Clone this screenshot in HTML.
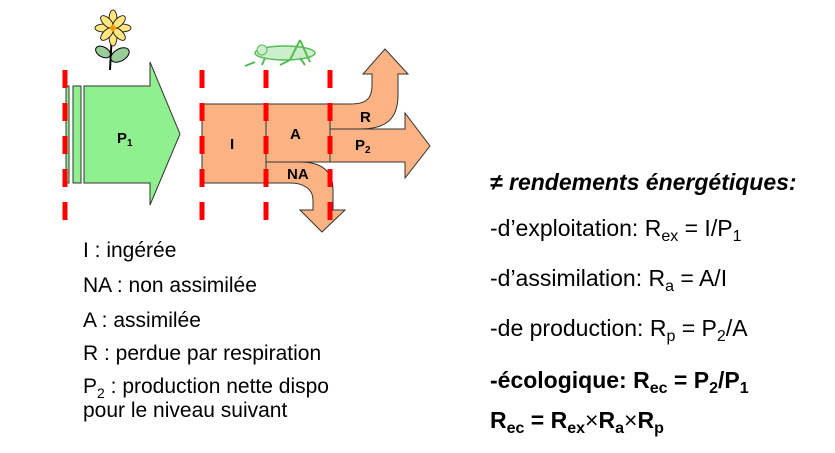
<!DOCTYPE html>
<html><head><meta charset="utf-8"><style>
body{margin:0;width:835px;height:453px;background:#fff;overflow:hidden;font-family:"Liberation Sans",Arial,sans-serif;}
svg{position:absolute;left:0;top:0}
</style></head><body>
<svg width="835" height="453">
<g>
<line x1="112" y1="32" x2="110" y2="70" stroke="#000" stroke-width="2"/>
<ellipse cx="103" cy="52" rx="8" ry="5" fill="#9c9" stroke="#000" transform="rotate(30 103 52)"/>
<ellipse cx="120" cy="55" rx="10" ry="6" fill="#9c9" stroke="#000" transform="rotate(-30 120 55)"/>
<g fill="#ffe680" stroke="#000" stroke-width="0.8">
<ellipse cx="113" cy="19" rx="4" ry="9"/><ellipse cx="113" cy="37" rx="4" ry="9"/>
<ellipse cx="104" cy="28" rx="9" ry="4"/><ellipse cx="122" cy="28" rx="9" ry="4"/>
<ellipse cx="107" cy="22" rx="4" ry="8" transform="rotate(-45 107 22)"/><ellipse cx="119" cy="34" rx="4" ry="8" transform="rotate(-45 119 34)"/>
<ellipse cx="119" cy="22" rx="4" ry="8" transform="rotate(45 119 22)"/><ellipse cx="107" cy="34" rx="4" ry="8" transform="rotate(45 107 34)"/>
</g><circle cx="113" cy="28" r="3" fill="#f90"/>
</g>
<g stroke="#5b5" fill="#cec">
<ellipse cx="285" cy="53" rx="30" ry="7" stroke-width="1.5"/>
<path d="M255 62 L245 66 M265 58 L262 65 M300 58 L305 65 M290 60 L280 65 M300 40 L310 62 M300 40 L290 60" stroke-width="2" fill="none"/>
<circle cx="262" cy="50" r="5"/>
</g>
<g stroke="#333" stroke-width="1">
<rect x="66" y="86" width="3" height="97" fill="#90f090"/>
<rect x="73" y="86" width="8" height="97" fill="#90f090"/>
<path d="M84 86 H150 V62 L180 134 L150 205 V183 H84 Z" fill="#90f090"/>
</g>
<text x="117" y="143" font-size="15" font-weight="bold">P<tspan font-size="10" dy="3">1</tspan></text>
<g stroke="#333" stroke-width="1" fill="#fbb384">
<path d="M330 104 H350 C365 104 372 100 372 85 V74 H363 L385 49 L408 74 H398 V95 C398 120 385 129 360 129 H330 Z"/>
<path d="M330 129 H405 V113 L430 146 L405 178 V162 H330 Z"/>
<path d="M266 162 H300 C320 162 333 170 333 190 V210 H345 L322 232 L300 210 H313 V200 C313 190 305 183 290 183 H266 Z"/>
<rect x="202" y="104" width="64" height="79"/>
<rect x="266" y="104" width="64" height="58"/>
</g>
<g font-size="15" font-weight="bold">
<text x="230" y="149">I</text>
<text x="290" y="139">A</text>
<text x="360" y="122">R</text>
<text x="355" y="150">P<tspan font-size="10" dy="3">2</tspan></text>
<text x="287" y="179">NA</text>
</g>
<g stroke="#f00" stroke-width="5" stroke-dasharray="18 15">
<line x1="65" y1="70" x2="65" y2="220"/>
<line x1="202" y1="70" x2="202" y2="220"/>
<line x1="266" y1="70" x2="266" y2="220"/>
<line x1="330" y1="70" x2="330" y2="220"/>
</g>
<g font-size="21" fill="#000">
<text x="83" y="257">I : ingérée</text>
<text x="83" y="292">NA : non assimilée</text>
<text x="83" y="327">A : assimilée</text>
<text x="83" y="360">R : perdue par respiration</text>
<text x="83" y="393">P<tspan font-size="14" dy="5">2</tspan><tspan dy="-5"> : production nette dispo</tspan></text>
<text x="83" y="417">pour le niveau suivant</text>
</g>
<g font-size="23" fill="#000">
<text x="490" y="190" font-weight="bold" font-style="italic">≠ rendements énergétiques:</text>
<text x="490" y="236">-d’exploitation: R<tspan font-size="16" dy="5">ex</tspan><tspan dy="-5"> = I/P</tspan><tspan font-size="16" dy="5">1</tspan></text>
<text x="490" y="286">-d’assimilation: R<tspan font-size="16" dy="5">a</tspan><tspan dy="-5"> = A/I</tspan></text>
<text x="490" y="336">-de production: R<tspan font-size="16" dy="5">p</tspan><tspan dy="-5"> = P</tspan><tspan font-size="16" dy="5">2</tspan><tspan dy="-5">/A</tspan></text>
<text x="490" y="388" font-weight="bold">-écologique: R<tspan font-size="16" dy="5">ec</tspan><tspan dy="-5"> = P</tspan><tspan font-size="16" dy="5">2</tspan><tspan dy="-5">/P</tspan><tspan font-size="16" dy="5">1</tspan></text>
<text x="490" y="428" font-weight="bold">R<tspan font-size="16" dy="5">ec</tspan><tspan dy="-5"> = R</tspan><tspan font-size="16" dy="5">ex</tspan><tspan dy="-5" font-weight="normal">×</tspan><tspan>R</tspan><tspan font-size="16" dy="5">a</tspan><tspan dy="-5" font-weight="normal">×</tspan><tspan>R</tspan><tspan font-size="16" dy="5">p</tspan></text>
</g>
</svg>
</body></html>
